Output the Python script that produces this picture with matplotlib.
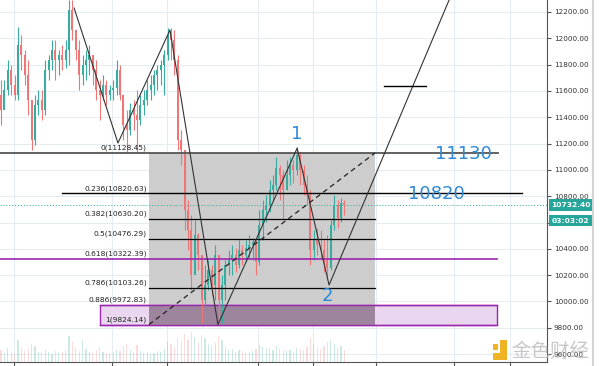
import numpy as np
import matplotlib.pyplot as plt
from matplotlib.patches import Rectangle
from matplotlib.lines import Line2D
from matplotlib.transforms import blended_transform_factory

# candle data (price), one bar per index
first_open = 11569
closes = [11455, 11607, 11759, 11645, 11569, 11949, 11873, 11721, 11531, 11227,
          11493, 11531, 11455, 11759, 11835, 11911, 11835, 11873, 11835, 11911,
          12215, 12063, 11911, 11721, 11797, 11835, 11873, 11759, 11607, 11569,
          11645, 11569, 11607, 11622, 11759, 11569, 11341, 11303, 11455, 11417,
          11379, 11493, 11531, 11607, 11645, 11721, 11759, 11797, 11873, 12025,
          11987, 11835, 11227, 11151, 10695, 10543, 10201, 10505, 10353, 10011,
          10125, 10239, 10125, 10353, 10011, 10125, 10277, 10315, 10353, 10277,
          10391, 10353, 10406, 10429, 10452, 10300, 10581, 10695, 10733, 10847,
          10885, 11014, 10961, 10847, 10961, 11037, 10999, 11113, 10999, 10885,
          10809, 10391, 10467, 10429, 10391, 10315, 10254, 10581, 10733, 10634,
          10748, 10732.40]
highs = [11683, 11683, 11835, 11797, 11721, 12086, 12025, 11911, 11835, 11455,
         11569, 11607, 11607, 11835, 11873, 11987, 11987, 11911, 11949, 11987,
         12291, 12291, 12025, 11987, 11873, 11911, 11949, 11873, 11835, 11683,
         11721, 11683, 11645, 11683, 11835, 11797, 11569, 11455, 11508, 11531,
         11607, 11569, 11607, 11683, 11721, 11759, 11797, 11835, 11911, 12078,
         12078, 12063, 11873, 11303, 11151, 10771, 10657, 10619, 10520, 10353,
         10277, 10315, 10277, 10429, 10353, 10201, 10315, 10391, 10429, 10406,
         10467, 10429, 10467, 10505, 10482, 10467, 10695, 10771, 10809, 10923,
         10961, 11098, 11037, 10999, 11075, 11098, 11075, 11174, 11136, 11037,
         10961, 10847, 10543, 10558, 10543, 10467, 10505, 10619, 10809, 10771,
         10786, 10771]
lows = [11341, 11493, 11569, 11569, 11531, 11531, 11759, 11645, 11417, 11151,
        11189, 11417, 11379, 11417, 11683, 11759, 11683, 11721, 11759, 11774,
        11797, 11987, 11835, 11607, 11645, 11683, 11721, 11645, 11531, 11379,
        11531, 11493, 11531, 11531, 11569, 11531, 11227, 11128, 11265, 11303,
        11128, 11341, 11417, 11493, 11531, 11569, 11607, 11645, 11569, 11835,
        11835, 11721, 11151, 11037, 10543, 10391, 10087, 10239, 10239, 9836,
        9935, 10087, 10049, 10011, 9836, 9836, 10011, 10201, 10201, 10224,
        10254, 10277, 10300, 10330, 10315, 10201, 10277, 10467, 10604, 10680,
        10771, 10847, 10771, 10619, 10847, 10885, 10900, 10961, 10885, 10809,
        10733, 10277, 10315, 10353, 10330, 10224, 10178, 10239, 10543, 10558,
        10604, 10657]
volumes = [12, 9, 14, 10, 8, 22, 15, 11, 13, 18,
           16, 10, 9, 12, 10, 8, 11, 9, 10, 12,
           26, 20, 14, 11, 22, 13, 10, 9, 12, 15,
           10, 9, 8, 10, 12, 11, 16, 18, 12, 10,
           17, 11, 9, 10, 8, 9, 11, 10, 13, 20,
           18, 15, 24, 20, 28, 22, 30, 25, 20, 27,
           24, 18, 16, 19, 26, 22, 15, 12, 13, 10,
           12, 11, 9, 10, 11, 13, 17, 15, 14, 13,
           12, 16, 13, 12, 11, 12, 10, 14, 13, 12,
           15, 24, 18, 14, 13, 16, 20, 22, 18, 14,
           16, 12]

# fibonacci retracement drawn on the chart
fib_ratios = [0, 0.236, 0.382, 0.5, 0.618, 0.786, 0.886, 1]
fib_prices = [11128.45, 10820.63, 10630.20, 10476.29, 10322.39, 10103.26, 9972.83, 9824.14]
fib_x = [43.5, 110.0]

# zigzag (wave) line
wave_x = [21.5, 34.4, 49.7, 63.8, 87.1, 96.5, 131.8]
wave_y = [12230, 11204, 12063, 9824, 11165, 10125, 12291]

time_grid = [3.8, 32.6, 48.8, 75.6, 91.8, 110.3, 133.2, 149.7]
price_ticks = np.arange(9600, 12201, 200)
last_price = 10732.40

green = '#3aab9f'
red = '#ef7676'
purple = '#9c27b0'
blue = '#2e8ad8'

fig = plt.figure(figsize=(6, 3.66), dpi=100)
ax = fig.add_axes([0, 4 / 366, 547 / 600, 362 / 366])
ax.set_xlim(-0.3, 160.6)
ax.set_ylim(9540, 12291)

# grid; the 10600 label sits under the countdown tag, so it is left blank
ax.set_yticks(price_ticks)
ax.set_yticklabels(['' if p == 10600 else f'{p:.2f}' for p in price_ticks])
ax.set_xticks(time_grid)
ax.set_xticklabels([])
ax.grid(True, color='#e6edf2', lw=0.8, zorder=0)
ax.set_axisbelow(True)
ax.yaxis.tick_right()
ax.tick_params(axis='y', labelsize=5.2, labelcolor='#333333', color='#555555', length=3, pad=2)
ax.tick_params(axis='x', color='#555555', length=3)
for s in ['left', 'top']:
    ax.spines[s].set_visible(False)
for s in ['right', 'bottom']:
    ax.spines[s].set_color('#555555')
    ax.spines[s].set_linewidth(0.8)

# fib area
f0, f886, f1 = fib_prices[0], fib_prices[6], fib_prices[7]
ax.add_patch(Rectangle((fib_x[0], f886), fib_x[1] - fib_x[0], f0 - f886,
                       facecolor='#cdcdcd', edgecolor='none', zorder=1))
ax.add_patch(Rectangle((29.1, f1), 145.9 - 29.1, f886 - f1,
                       facecolor='#ead6ee', edgecolor=purple, lw=1, zorder=1))
ax.add_patch(Rectangle((fib_x[0], f1), fib_x[1] - fib_x[0], f886 - f1,
                       facecolor='#9d859d', edgecolor='none', zorder=1.1))
ax.plot([29.1, 145.9], [f886, f886], color=purple, lw=1, zorder=1.2)
ax.plot([29.1, 145.9], [f1, f1], color=purple, lw=1, zorder=1.2)

# volume
vol_ax = ax.inset_axes([0, 0, 1, 0.09], sharex=ax)
vol_ax.patch.set_alpha(0)
vol_ax.axis('off')
vol_ax.set_ylim(0, 33)

# candles
idx = np.arange(len(closes))
closes_a = np.array(closes)
opens_a = np.array([first_open] + closes[:-1])
up = closes_a >= opens_a
colors = [green if u else red for u in up]
vol_ax.bar(idx, volumes, width=0.35, color=colors, alpha=0.25)
ax.vlines(idx, lows, highs, colors=colors, lw=0.8, zorder=3)
ax.bar(idx, np.abs(closes_a - opens_a), bottom=np.minimum(opens_a, closes_a),
       width=0.6, color=colors, zorder=3)

# fib lines
ax.plot([-0.3, 146.2], [f0, f0], color='#555555', lw=1.3, zorder=4)
ax.plot([17.9, 153.2], [fib_prices[1], fib_prices[1]], color='black', lw=1, zorder=4)
for k in [2, 3, 5]:
    ax.plot(fib_x, [fib_prices[k], fib_prices[k]], color='black', lw=0.9, zorder=4)
ax.plot([-0.3, 145.9], [fib_prices[4], fib_prices[4]], color=purple, lw=1.2, zorder=4)
for r, p in zip(fib_ratios, fib_prices):
    ax.text(42.9, p + 12, f'{r:g}({p:.2f})', fontsize=5.4, color='#222222',
            ha='right', va='bottom', zorder=5)

# dashed diagonal and wave lines
ax.plot(fib_x, [f1, f0], color='#222222', lw=0.9, ls=(0, (4, 3)), zorder=4)
ax.plot(wave_x, wave_y, color='#333333', lw=0.8, zorder=4)
ax.plot([112.6, 125], [11637, 11637], color='black', lw=1, zorder=4)

# last price line
ax.axhline(last_price, color='#26a69a', lw=0.7, ls=(0, (1, 2)), zorder=2)

# blue labels
ax.text(87.1, 11273, '1', color=blue, fontsize=13, ha='center', va='center', zorder=5)
ax.text(95.9, 10041, '2', color=blue, fontsize=13, ha='center', va='center', zorder=5)
ax.text(135.9, 11121, '11130', color=blue, fontsize=13, ha='center', va='center', zorder=5)
ax.text(128, 10817, '10820', color=blue, fontsize=13, ha='center', va='center', zorder=5)

# price tags on the right axis
tr = blended_transform_factory(ax.transAxes, ax.transData)
ax.text(1.008, last_price, '10732.40', transform=tr, fontsize=5.4, color='white',
        fontweight='bold', va='center', ha='left', zorder=6, clip_on=False,
        bbox=dict(boxstyle='square,pad=0.35', fc='#26a69a', ec='none'))
ax.text(1.008, last_price - 118, '03:03:02', transform=tr, fontsize=5.4, color='white',
        fontweight='bold', va='center', ha='left', zorder=6, clip_on=False,
        bbox=dict(boxstyle='square,pad=0.35', fc='#26a69a', ec='none'))

# right border
fig.add_artist(Line2D([593 / 600, 593 / 600], [0, 1], color='#d4d4d4', lw=1.5))

# watermark
fig.add_artist(Rectangle((500 / 600, 6 / 366), 7 / 600, 20 / 366, fc='#f0b323', ec='none'))
fig.add_artist(Rectangle((493 / 600, 6 / 366), 14 / 600, 7 / 366, fc='#f0b323', ec='none'))
fig.add_artist(Rectangle((493 / 600, 16 / 366), 5 / 600, 6 / 366, fc='#f0b323', ec='none'))
fig.text(550 / 600, 15 / 366, '金色财经', family=['Noto Sans CJK SC', 'DejaVu Sans'],
         fontsize=14, color='#bdbdbd', ha='center', va='center', alpha=0.85)

fig.savefig('out.png', dpi=100)
